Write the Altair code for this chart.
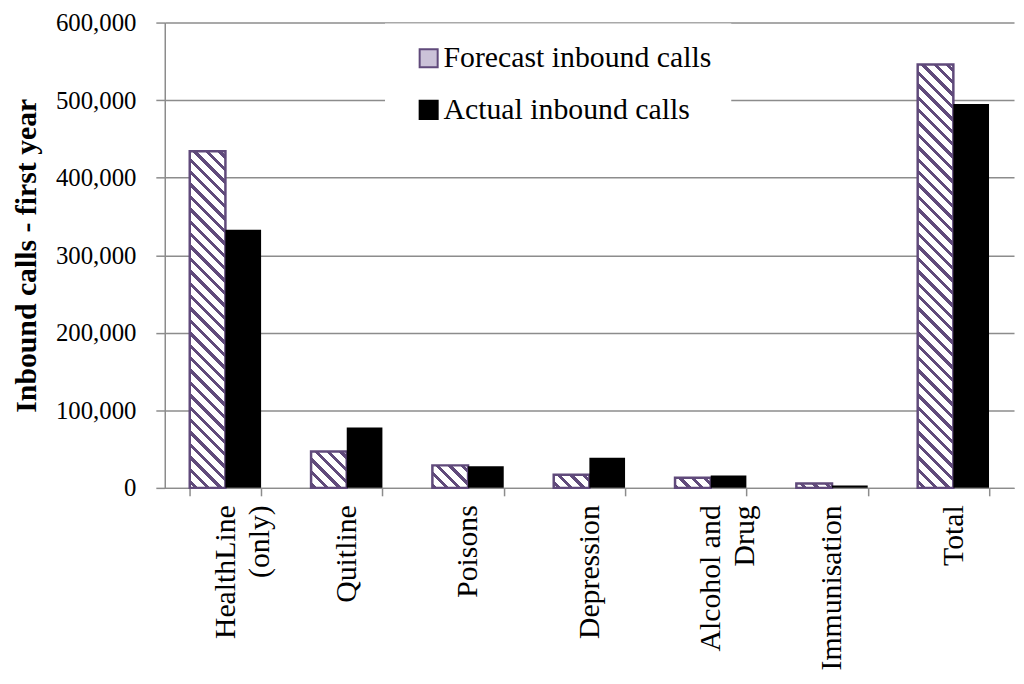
import altair as alt
import pandas as pd

# ---- data ----
categories = ["HealthLine (only)", "Quitline", "Poisons", "Depression",
              "Alcohol and Drug", "Immunisation", "Total"]
forecast = [434000, 47000, 29000, 17000, 13000, 5500, 546000]
actual = [333000, 78000, 28000, 39000, 16000, 3000, 495000]
series_names = ["Forecast inbound calls", "Actual inbound calls"]
y_ticks = [0, 100000, 200000, 300000, 400000, 500000, 600000]

rows = []
for c, f, a in zip(categories, forecast, actual):
    rows.append({"category": c, "series": series_names[0], "calls": f})
    rows.append({"category": c, "series": series_names[1], "calls": a})
df = pd.DataFrame(rows)

# ---- layout / style ----
W, H = 856, 469
YMAX = 600000
PAD_INNER, PAD_OUTER = 0.412, 0.206
PURPLE = "#604A7B"
GRID = "#8C8C8C"
FONT = "Liberation Serif"
FS = 30

step = W / (len(categories) - PAD_INNER + 2 * PAD_OUTER)
bar_w = step * (1 - PAD_INNER) / 2


def hatch(w, h, period=12.5, thick=4.4, phase=4.0):
    """Diagonal '\\' stripes as a linear gradient in bounding-box units."""
    L = w + h
    k = L / (w * w + h * h)
    stops = [{"offset": 0, "color": "white"}]
    i = 0
    while True:
        s0 = i * period + phase
        if s0 >= L:
            break
        s1 = min(s0 + thick, L)
        o0, o1 = round(s0 / L, 5), round(s1 / L, 5)
        stops += [{"offset": o0, "color": "white"},
                  {"offset": o0, "color": PURPLE},
                  {"offset": o1, "color": PURPLE},
                  {"offset": o1, "color": "white"}]
        i += 1
    stops.append({"offset": 1, "color": "white"})
    return {"gradient": "linear", "x1": 1, "y1": 0,
            "x2": round(1 - k * w, 5), "y2": round(k * h, 5), "stops": stops}


conds = [
    {"test": f"datum.series === '{series_names[0]}' && datum.category === '{c}'",
     "value": hatch(bar_w, f / YMAX * H)}
    for c, f in zip(categories, forecast)
]

legend = alt.Legend(
    title=None, orient="none", legendX=222, legendY=1, fillColor="white",
    padding=20, symbolOffset=9, symbolSize=330, symbolType="square",
    symbolStrokeWidth=2, labelFontSize=FS, labelFont=FONT, labelOffset=0,
    labelLimit=500, rowPadding=22, labelColor="black",
)

label_expr = ("datum.label == 'HealthLine (only)' ? ['HealthLine', '(only)'] : "
              "datum.label == 'Alcohol and Drug' ? ['Alcohol and', 'Drug'] : datum.label")

chart = alt.Chart(df).mark_bar().encode(
    x=alt.X("category:N", sort=categories,
            scale=alt.Scale(paddingInner=PAD_INNER, paddingOuter=PAD_OUTER),
            axis=alt.Axis(title=None, labelAngle=270, labelAlign="right",
                          labelBaseline="middle", labelExpr=label_expr,
                          labelFont=FONT, labelFontSize=FS, labelColor="black",
                          labelLineHeight=34, labelPadding=9, labelLimit=400,
                          tickBand="extent", tickSize=8, tickColor=GRID,
                          tickWidth=1.5, domainColor=GRID, domainWidth=1.5,
                          grid=False)),
    xOffset=alt.XOffset("series:N", sort=series_names,
                        scale=alt.Scale(domain=series_names)),
    y=alt.Y("calls:Q", scale=alt.Scale(domain=[0, YMAX], nice=False),
            axis=alt.Axis(values=y_ticks, format=",d",
                          title="Inbound calls - first year",
                          titleFont=FONT, titleFontSize=FS, titleFontWeight="bold",
                          titleColor="black", titleAngle=270, titleX=-130,
                          titleY=H / 2, titleAlign="center",
                          titleBaseline="alphabetic",
                          labelFont=FONT, labelFontSize=25, labelColor="black",
                          labelPadding=20, tickSize=9, tickColor=GRID,
                          tickWidth=1.5, domainColor=GRID, domainWidth=1.5,
                          grid=True, gridColor=GRID, gridWidth=1.5)),
    fill=alt.Fill("series:N",
                  scale=alt.Scale(domain=series_names, range=["#CBC2D8", "black"]),
                  legend=legend, condition=conds),
    stroke=alt.Stroke("series:N",
                      scale=alt.Scale(domain=series_names, range=[PURPLE, "black"]),
                      legend=legend),
    strokeWidth=alt.condition(alt.datum.series == series_names[0],
                              alt.value(2.5), alt.value(0)),
).properties(
    width=W, height=H,
    autosize=alt.AutoSizeParams(type="none"),
    padding={"left": 158, "top": 12, "right": 2, "bottom": 195},
).configure(font=FONT).configure_view(strokeWidth=0)

chart.save("out.html", embed_options={"renderer": "svg", "actions": False})
